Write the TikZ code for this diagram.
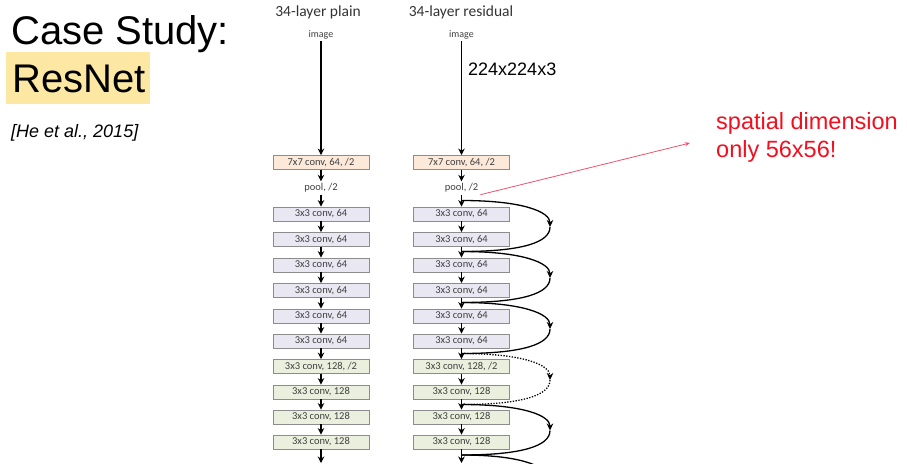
\documentclass[tikz,border=0pt]{standalone}
\usepackage{fontspec}
\setmainfont{Liberation Sans}
\newfontfamily\calibri{Carlito}
\usetikzlibrary{arrows.meta}

\definecolor{peach}{HTML}{FCE9DA}
\definecolor{lav}{HTML}{E9E7F1}
\definecolor{lgreen}{HTML}{EAF0DD}
\definecolor{hilite}{HTML}{FCE8A3}
\definecolor{boxgray}{HTML}{8C8C8C}
\definecolor{notered}{HTML}{F20F1F}
\definecolor{linered}{HTML}{F0506E}

\tikzset{
  layer/.style={draw=boxgray, line width=0.9pt, minimum width=96pt, minimum height=14pt,
    inner sep=0pt, font=\calibri\fontsize{10.5}{11}\selectfont, text=black!75},
  conv7/.style={layer, fill=peach},
  conv64/.style={layer, fill=lav},
  conv128/.style={layer, fill=lgreen},
  small/.style={font=\calibri\fontsize{10.5}{11}\selectfont, text=black!75, inner sep=2pt},
  flow/.style={line width=1.3pt, -{Stealth[length=6.5pt,width=6.5pt]}},
  skip/.style={line width=1.3pt},
  skiphead/.style={skip, -{Stealth[length=7pt,width=6.5pt]}},
  dots/.style={dash pattern=on 1.3pt off 1.5pt},
}

\begin{document}
\begin{tikzpicture}[x=1pt, y=-1pt]
  \clip (0,0) rectangle (907,463);

  % title on the left
  \fill[hilite] (6,52) rectangle (150,104);
  \node[anchor=base west, inner sep=0pt, font=\fontsize{40}{44}\selectfont] (title) at (11,44) {Case Study:};
  \node[anchor=base west, inner sep=0pt, font=\fontsize{40}{44}\selectfont] (resnet) at (12,92) {ResNet};
  \node[anchor=base west, inner sep=0pt, font=\fontsize{18}{20}\selectfont\itshape] (cite) at (11,137) {[He et al., 2015]};

  % headers
  \node[font=\calibri\fontsize{15.5}{17}\selectfont, text=black!80] (hplain) at (318,12) {34-layer plain};
  \node[font=\calibri\fontsize{15.5}{17}\selectfont, text=black!80] (hres) at (461,12) {34-layer residual};

  % plain column
  \node[small, font=\calibri\fontsize{10}{11}\selectfont] (pimg) at (321,35) {image};
  \node[conv7] (p0) at (321,162.5) {7x7 conv, 64, /2};
  \node[small] (ppool) at (321,188) {pool, /2};
  \node[conv64] (p1) at (321,214) {3x3 conv, 64};
  \node[conv64] (p2) at (321,239.5) {3x3 conv, 64};
  \node[conv64] (p3) at (321,265) {3x3 conv, 64};
  \node[conv64] (p4) at (321,290.5) {3x3 conv, 64};
  \node[conv64] (p5) at (321,316) {3x3 conv, 64};
  \node[conv64] (p6) at (321,341) {3x3 conv, 64};
  \node[conv128] (p7) at (321,366.5) {3x3 conv, 128, /2};
  \node[conv128] (p8) at (321,392) {3x3 conv, 128};
  \node[conv128] (p9) at (321,417) {3x3 conv, 128};
  \node[conv128] (p10) at (321,442) {3x3 conv, 128};
  \coordinate (pend) at (321,463);

  \draw[flow] (pimg) -- (p0);
  \draw[flow] (p0) -- (ppool);
  \draw[flow] (ppool) -- (p1);
  \draw[flow] (p1) -- (p2);
  \draw[flow] (p2) -- (p3);
  \draw[flow] (p3) -- (p4);
  \draw[flow] (p4) -- (p5);
  \draw[flow] (p5) -- (p6);
  \draw[flow] (p6) -- (p7);
  \draw[flow] (p7) -- (p8);
  \draw[flow] (p8) -- (p9);
  \draw[flow] (p9) -- (p10);
  \draw[flow] (p10) -- (pend);

  % residual column
  \node[small, font=\calibri\fontsize{10}{11}\selectfont] (rimg) at (461.5,35) {image};
  \node[conv7] (r0) at (461.5,162.5) {7x7 conv, 64, /2};
  \node[small] (rpool) at (461.5,188) {pool, /2};
  \node[conv64] (r1) at (461.5,214) {3x3 conv, 64};
  \node[conv64] (r2) at (461.5,239.5) {3x3 conv, 64};
  \node[conv64] (r3) at (461.5,265) {3x3 conv, 64};
  \node[conv64] (r4) at (461.5,290.5) {3x3 conv, 64};
  \node[conv64] (r5) at (461.5,316) {3x3 conv, 64};
  \node[conv64] (r6) at (461.5,341) {3x3 conv, 64};
  \node[conv128] (r7) at (461.5,366.5) {3x3 conv, 128, /2};
  \node[conv128] (r8) at (461.5,392) {3x3 conv, 128};
  \node[conv128] (r9) at (461.5,417) {3x3 conv, 128};
  \node[conv128] (r10) at (461.5,442) {3x3 conv, 128};
  \coordinate (rend) at (461.5,463);

  \draw[flow] (rimg) -- (r0);
  \draw[flow] (r0) -- (rpool);
  \draw[flow] (rpool) -- (r1);
  \draw[flow] (r1) -- (r2);
  \draw[flow] (r2) -- (r3);
  \draw[flow] (r3) -- (r4);
  \draw[flow] (r4) -- (r5);
  \draw[flow] (r5) -- (r6);
  \draw[flow] (r6) -- (r7);
  \draw[flow] (r7) -- (r8);
  \draw[flow] (r8) -- (r9);
  \draw[flow] (r9) -- (r10);
  \draw[flow] (r10) -- (rend);

  \node[anchor=base west, inner sep=0pt, font=\fontsize{18}{20}\selectfont] (insize) at (468,75) {224x224x3};

  % shortcut junctions and turning points
  \coordinate (j0) at (461.5,200.5);
  \coordinate (j1) at (461.5,251.5);
  \coordinate (j2) at (461.5,302.5);
  \coordinate (j3) at (461.5,353.5);
  \coordinate (j4) at (461.5,404.5);
  \coordinate (j5) at (461.5,455);
  \coordinate (k0) at (550,227);
  \coordinate (k1) at (550,278);
  \coordinate (k2) at (550,329);
  \coordinate (k3) at (550,380);
  \coordinate (k4) at (550,430.5);
  \coordinate (k5) at (550,482);

  \draw[skiphead] (j0) .. controls +(62,0) and +(0,-15) .. (k0);
  \draw[skip] (k0) .. controls +(0,15) and +(62,0) .. (j1);
  \draw[skiphead] (j1) .. controls +(62,0) and +(0,-15) .. (k1);
  \draw[skip] (k1) .. controls +(0,15) and +(62,0) .. (j2);
  \draw[skiphead] (j2) .. controls +(62,0) and +(0,-15) .. (k2);
  \draw[skip] (k2) .. controls +(0,15) and +(62,0) .. (j3);
  \draw[skiphead, dots] (j3) .. controls +(62,0) and +(0,-15) .. (k3);
  \draw[skip, dots] (k3) .. controls +(0,15) and +(62,0) .. (j4);
  \draw[skiphead] (j4) .. controls +(62,0) and +(0,-15) .. (k4);
  \draw[skip] (k4) .. controls +(0,15) and +(62,0) .. (j5);
  \draw[skip] (j5) .. controls +(62,0) and +(0,-15) .. (k5);

  % note in red
  \node[anchor=base west, inner sep=0pt, align=left, text=notered,
    font=\fontsize{23.5}{28.5}\selectfont] (note) at (716,157.5) {spatial dimension\\only 56x56!};
  \coordinate (tip) at (690,143);
  \draw[linered, line width=0.8pt, -{Stealth[length=5pt,width=4pt]}] (rpool.south east) -- (tip);
\end{tikzpicture}
\end{document}
